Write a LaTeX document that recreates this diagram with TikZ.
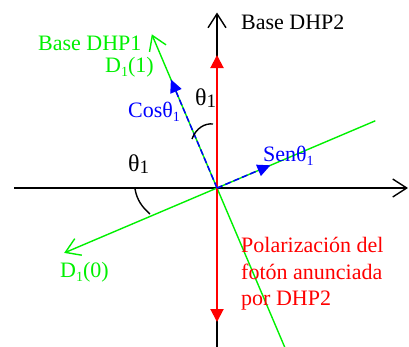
\documentclass[tikz,border=0pt]{standalone}
\usepackage{fontspec}
\setmainfont{Liberation Serif}
\usetikzlibrary{arrows.meta}
\definecolor{gr}{RGB}{0,240,0}
\definecolor{bl}{RGB}{0,0,255}
\definecolor{rd}{RGB}{255,0,0}
\newcommand\lowsub[1]{\raisebox{-4.5pt}{\fontsize{14}{15}\selectfont #1}}
\newcommand\bigth{{\fontsize{24}{28}\selectfont θ\raisebox{-2.5pt}{\fontsize{19}{20}\selectfont 1}}}
\begin{document}
\begin{tikzpicture}[x=1pt,y=-1pt,
  lbl/.style={inner sep=0pt, anchor=west, font=\fontsize{22}{26.5}\selectfont},
  axisline/.style={black, line width=1.4pt, -{Straight Barb[length=14pt,width=18pt,line width=1.4pt]}},
  grline/.style={gr, line width=1.4pt},
  grarrow/.style={gr, line width=1.4pt, -{Straight Barb[length=14pt,width=18pt,line width=1.4pt]}},
  redarrow/.style={rd, line width=2pt, {Triangle[length=13pt,width=13pt]}-{Triangle[length=13pt,width=13pt]}},
  bluearrow/.style={bl, line width=1.5pt, dash pattern=on 6pt off 3pt, -{Triangle[length=13pt,width=12pt]}},
  anglearc/.style={black, line width=1.4pt}]
\useasboundingbox (0,0) rectangle (409,346);
% coordinates
\coordinate (O) at (217,188);
\coordinate (xl) at (14,188);
\coordinate (xr) at (408,188);
\coordinate (yb) at (217,350);
\coordinate (yt) at (217,12.5);
\coordinate (rt) at (217,55);
\coordinate (rb) at (217,322);
\coordinate (d1) at (151.8,34.3);
\coordinate (d1b) at (285.5,349);
\coordinate (d0) at (64.2,252.9);
\coordinate (ur) at (375.3,120.8);
\coordinate (ct) at (170.9,79.4);
\coordinate (st) at (270.4,165.3);
% axes
\draw[axisline] (xl) -- (xr);
\draw[axisline] (yb) -- (yt);
% green basis
\draw[grline] (O) -- (d1b);
\draw[grarrow] (O) -- (d1);
\draw[grline] (O) -- (ur);
\draw[grarrow] (O) -- (d0);
% red polarization
\draw[redarrow] (rb) -- (rt);
% blue projections
\draw[bluearrow] (O) -- (ct);
\draw[bluearrow] (O) -- (st);
% angle arcs
\draw[anglearc] (192,139) .. controls (196,128) and (205,123) .. (213,124);
\draw[anglearc] (135,189) .. controls (137,200) and (142,207) .. (150,214);
% labels
\node[lbl] (lb2) at (241,22) {Base DHP2};
\node[lbl, text=gr] (lb1) at (38,43) {Base DHP1};
\node[lbl, text=gr] (ld11) at (105,67) {D\lowsub{1}(1)};
\node[lbl, text=bl] (lcos) at (128,112) {Cosθ\lowsub{1}};
\node[lbl] (lth1) at (195,98) {\bigth};
\node[lbl] (lth2) at (128,164) {\bigth};
\node[lbl, text=bl] (lsen) at (263,156) {Senθ\lowsub{1}};
\node[lbl, text=gr] (ld10) at (60,272) {D\lowsub{1}(0)};
\node[lbl, text=rd, align=left] (lpol) at (241,274) {Polarización del\\fotón anunciada\\por DHP2};
\end{tikzpicture}
\end{document}
